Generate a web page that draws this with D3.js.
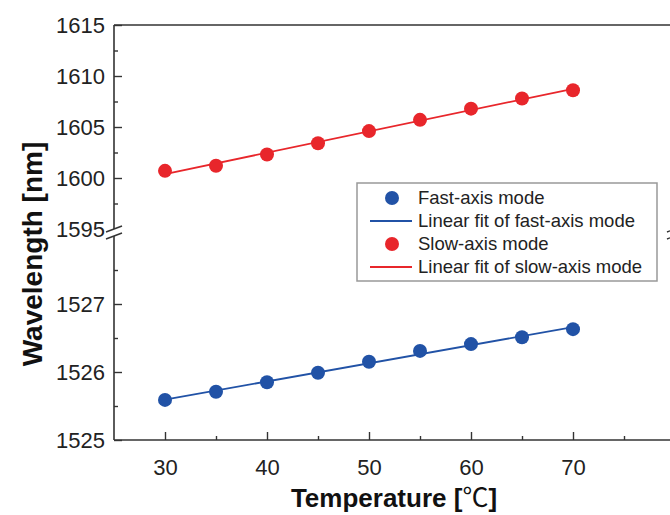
<!DOCTYPE html>
<html><head><meta charset="utf-8">
<script src="https://cdn.jsdelivr.net/npm/d3@7"></script>
<style>
body{margin:0;background:#fff;}
text{font-family:"Liberation Sans",Arial,sans-serif;}
</style></head>
<body><svg id="c" width="670" height="515"></svg>
<script>
const temps = [30,35,40,45,50,55,60,65,70];
const slowAxis = [1600.7,1601.2,1602.3,1603.4,1604.6,1605.7,1606.8,1607.8,1608.6];
const fastAxis = [1525.59,1525.71,1525.85,1525.99,1526.15,1526.31,1526.41,1526.51,1526.63];
const xTicks = [30,40,50,60,70];
const yTopTicks = [1595,1600,1605,1610,1615];
const yBotTicks = [1525,1526,1527];
const legendLabels = ["Fast-axis mode","Linear fit of fast-axis mode","Slow-axis mode","Linear fit of slow-axis mode"];

const RED = "#e8262b", BLUE = "#2152a6", AX = "#333";
const svg = d3.select("#c");

const x = d3.scaleLinear().domain([25,80]).range([114,675]);
const yTop = d3.scaleLinear().domain([1595,1615]).range([229,25]);
const yBot = d3.scaleLinear().domain([1525,1528]).range([440,236]);

function fit(xs, ys){
  const n=xs.length, mx=d3.mean(xs), my=d3.mean(ys);
  let sxy=0,sxx=0;
  for(let i=0;i<n;i++){sxy+=(xs[i]-mx)*(ys[i]-my);sxx+=(xs[i]-mx)**2;}
  const b=sxy/sxx, a=my-b*mx;
  return v=>a+b*v;
}

// frame lines
const X0 = x.range()[0];
svg.append("line").attr("x1",X0).attr("x2",x.range()[1]).attr("y1",yTop.range()[1]).attr("y2",yTop.range()[1]).attr("stroke",AX).attr("stroke-width",1.6);
svg.append("line").attr("x1",X0).attr("x2",x.range()[1]).attr("y1",yBot.range()[0]).attr("y2",yBot.range()[0]).attr("stroke",AX).attr("stroke-width",1.6);
[X0, x.range()[1]].forEach(xx=>{
  svg.append("line").attr("x1",xx).attr("x2",xx).attr("y1",yTop.range()[1]).attr("y2",yTop.range()[0]).attr("stroke",AX).attr("stroke-width",1.6);
  svg.append("line").attr("x1",xx).attr("x2",xx).attr("y1",yBot.range()[1]).attr("y2",yBot.range()[0]).attr("stroke",AX).attr("stroke-width",1.6);
  [yTop.range()[0], yBot.range()[1]].forEach(yy=>{
    svg.append("line").attr("x1",xx-8).attr("y1",yy+3).attr("x2",xx+8).attr("y2",yy-3).attr("stroke",AX).attr("stroke-width",1.4);
  });
});

function styleAxis(g){
  g.select(".domain").remove();
  g.selectAll(".tick line").attr("stroke",AX).attr("stroke-width",1.4);
  g.selectAll(".tick text").attr("fill","#222").style("font-size","22px").style("font-family","'Liberation Sans',Arial,sans-serif");
}
svg.append("g").attr("transform",`translate(${X0},0)`)
  .call(d3.axisLeft(yTop).tickValues(yTopTicks).tickSize(-8).tickPadding(9).tickFormat(d3.format("d"))).call(styleAxis)
  .selectAll(".tick").filter(d=>d===1595).select("line").remove();
svg.append("g").attr("transform",`translate(${X0},0)`)
  .call(d3.axisLeft(yTop).tickValues(d3.range(1597.5,1615,5)).tickSize(-4).tickFormat("")).call(styleAxis);
svg.append("g").attr("transform",`translate(${X0},0)`)
  .call(d3.axisLeft(yBot).tickValues(yBotTicks).tickSize(-8).tickPadding(9).tickFormat(d3.format("d"))).call(styleAxis);
svg.append("g").attr("transform",`translate(${X0},0)`)
  .call(d3.axisLeft(yBot).tickValues([1525.5,1526.5,1527.5]).tickSize(-4).tickFormat("")).call(styleAxis);
svg.append("g").attr("transform",`translate(0,${yBot.range()[0]})`)
  .call(d3.axisBottom(x).tickValues(xTicks).tickSize(-8).tickPadding(19).tickFormat(d3.format("d"))).call(styleAxis);
svg.append("g").attr("transform",`translate(0,${yBot.range()[0]})`)
  .call(d3.axisBottom(x).tickValues([35,45,55,65,75]).tickSize(-4).tickFormat("")).call(styleAxis);

const fs = fit(temps, slowAxis), ff = fit(temps, fastAxis);
const x1 = d3.min(temps), x2 = d3.max(temps);
svg.append("line").attr("x1",x(x1)).attr("x2",x(x2)).attr("y1",yTop(fs(x1))).attr("y2",yTop(fs(x2))).attr("stroke",RED).attr("stroke-width",1.8);
svg.append("line").attr("x1",x(x1)).attr("x2",x(x2)).attr("y1",yBot(ff(x1))).attr("y2",yBot(ff(x2))).attr("stroke",BLUE).attr("stroke-width",1.8);

svg.append("g").selectAll("circle").data(temps).join("circle")
  .attr("cx",d=>x(d)).attr("cy",(d,i)=>yTop(slowAxis[i])).attr("r",7).attr("fill",RED);
svg.append("g").selectAll("circle").data(temps).join("circle")
  .attr("cx",d=>x(d)).attr("cy",(d,i)=>yBot(fastAxis[i])).attr("r",7).attr("fill",BLUE);

const lg = svg.append("g");
lg.append("rect").attr("x",357).attr("y",183).attr("width",300).attr("height",98).attr("fill","#fff").attr("stroke","#999").attr("stroke-width",1.5);
const rowsY = [198,221,244,267];
const kinds = [["dot",BLUE],["line",BLUE],["dot",RED],["line",RED]];
legendLabels.forEach((t,i)=>{
  const [k,c]=kinds[i];
  if(k==="dot") lg.append("circle").attr("cx",392).attr("cy",rowsY[i]).attr("r",7).attr("fill",c);
  else lg.append("line").attr("x1",370).attr("x2",412).attr("y1",rowsY[i]).attr("y2",rowsY[i]).attr("stroke",c).attr("stroke-width",1.8);
  lg.append("text").attr("x",418).attr("y",rowsY[i]).attr("dy","0.35em").attr("fill","#222").style("font-size","18.5px").text(t);
});

const xt = svg.append("text").attr("x",394).attr("y",507).attr("text-anchor","middle").attr("fill","#111")
  .style("font-size","26px").style("font-weight","bold");
xt.append("tspan").text("Temperature [");
xt.append("tspan").style("font-family","'Noto Sans CJK SC','DejaVu Sans',sans-serif").style("font-weight","normal").text("℃");
xt.append("tspan").text("]");
svg.append("text").attr("transform","translate(42,254) rotate(-90)").attr("text-anchor","middle").attr("fill","#111")
  .style("font-size","28px").style("font-weight","bold").text("Wavelength [nm]");
</script></body></html>
